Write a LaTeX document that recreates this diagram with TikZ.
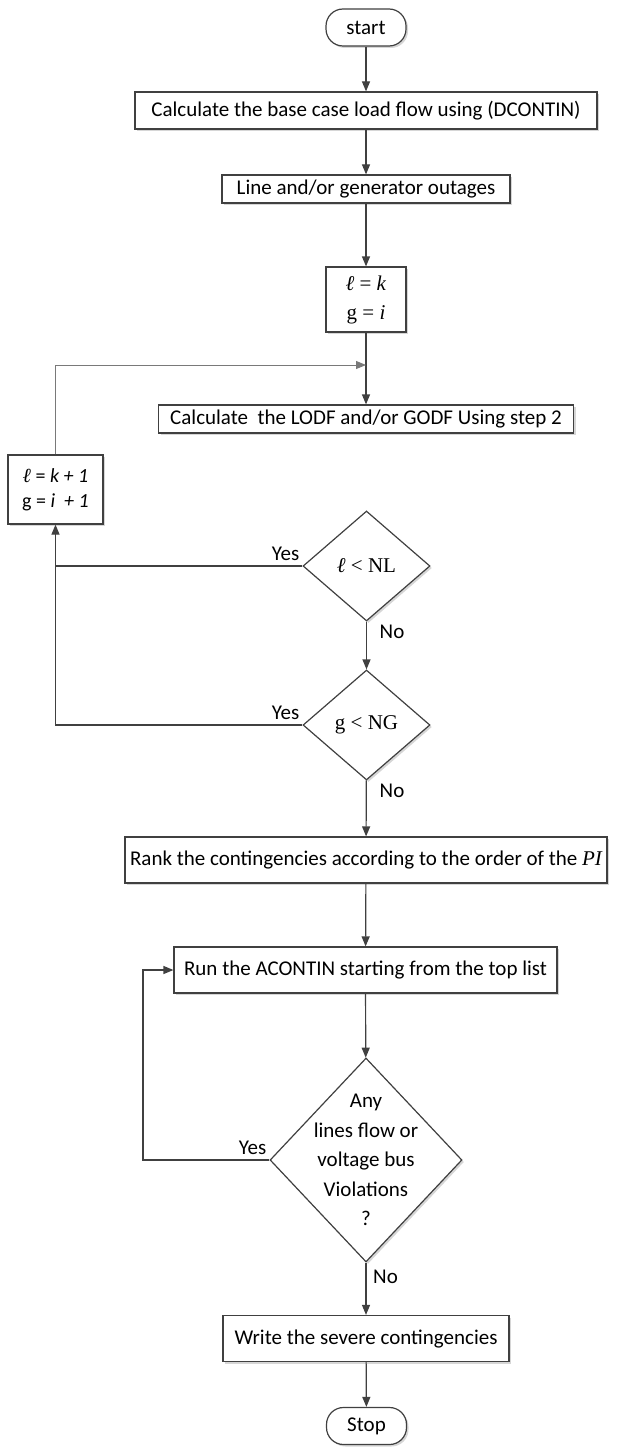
\documentclass[tikz,border=0pt]{standalone}
\usepackage{fontspec}
\setmainfont{Carlito}
\newfontfamily\tnr{Liberation Serif}
\usetikzlibrary{arrows.meta,positioning,shapes.geometric,shadows}
\definecolor{Ink}{HTML}{404040}
\definecolor{Shade}{HTML}{D6D6D6}

\tikzset{
  procbox/.style={draw=Ink,line width=1.2pt,fill=white,minimum height=28pt,inner xsep=6pt,
    drop shadow={shadow xshift=2pt,shadow yshift=-2pt,fill=Shade,opacity=1}},
  termbox/.style={procbox,rounded corners=17pt,minimum width=80pt,minimum height=37pt},
  decision/.style={diamond,draw=Ink,line width=1.2pt,fill=white,inner sep=0pt,
    drop shadow={shadow xshift=2pt,shadow yshift=-2pt,fill=Shade,opacity=1}},
  flow/.style={draw=Ink,line width=1.2pt,-{Triangle[length=10pt,width=8pt]}},
  tag/.style={inner sep=3pt}
}

\begin{document}
\begin{tikzpicture}[x=1pt,y=-1pt,font=\fontsize{21}{25}\selectfont]
  \useasboundingbox (0,0) rectangle (617,1450);
  % main column
  \node[termbox] (start) at (366,27.5) {start};
  \node[procbox,minimum width=462pt,minimum height=37pt] (base) at (366,110.5) {Calculate the base case load flow using (DCONTIN)};
  \node[procbox,minimum width=288pt] (outage) at (366,189) {Line and/or generator outages};
  \node[procbox,minimum width=80pt,minimum height=65pt,align=center,font=\tnr\fontsize{21}{29}\selectfont] (init) at (366,299.5) {\textit{ℓ} = \textit{k}\\g = \textit{i}};
  \coordinate (join) at (366,365);
  \node[procbox,minimum width=415pt] (lodf) at (366,419) {Calculate\ \ the LODF and/or GODF Using step 2};
  \node[procbox,minimum width=95pt,minimum height=69pt,align=center,font=\fontsize{20}{25}\selectfont] (incr) at (55.5,489.5) {{\tnr\itshape ℓ} = \textit{k + 1}\\g = \textit{i}\ \ \textit{+ 1}};
  \node[decision,minimum width=127pt,minimum height=110pt,font=\tnr\fontsize{21}{25}\selectfont] (dl) at (366.5,566) {\textit{ℓ} < NL};
  \node[decision,minimum width=127pt,minimum height=110pt,font=\tnr\fontsize{21}{25}\selectfont] (dg) at (366.5,725) {g < NG};
  \node[procbox,minimum height=46pt,inner xsep=5pt] (rank) at (366,860) {Rank the contingencies according to the order of the {\tnr\itshape PI}};
  \node[procbox,minimum width=383pt,minimum height=46pt] (run) at (365.5,970) {Run the ACONTIN starting from the top list};
  \node[decision,minimum width=192pt,minimum height=204pt,
    label={[align=center,font=\fontsize{21}{29.5}\selectfont]center:Any\\lines flow or\\voltage bus\\Violations\\?}] (viol) at (366,1160) {};
  \node[procbox,minimum width=286pt,minimum height=46pt] (sev) at (366,1338.5) {Write the severe contingencies};
  \node[termbox] (stop) at (366.5,1426) {Stop};

  % answers
  \node[tag,above left=2pt and 0pt of dl.west] (yes1) {Yes};
  \node[tag,above left=2pt and 0pt of dg.west] (yes2) {Yes};
  \node[tag,above left=2pt and 0pt of viol.west] (yes3) {Yes};
  \node[tag,below right=0pt and 10pt of dl.south] (no1) {No};
  \node[tag,below right=0pt and 10pt of dg.south] (no2) {No};
  \node[tag,below right=4pt and 4pt of viol.south] (no3) {No};

  % connectors
  \draw[flow] (start) -- (base);
  \draw[flow] (base) -- (outage);
  \draw[flow] (outage) -- (init);
  \draw[flow] (init) -- (lodf);
  \draw[flow,draw=Ink!70,line width=1pt] (incr.north) |- (join);
  \draw[flow] (dl.west) -| (incr.south);
  \coordinate (yesjoin) at (incr.south |- dl.west);
  \draw[draw=Ink,line width=1.2pt] (dg.west) -| (yesjoin);
  \draw[flow] (dl) -- (dg);
  \draw[flow] (dg) -- (rank);
  \draw[flow] (rank) -- (run);
  \draw[flow] (run) -- (viol);
  \coordinate (loopr) at (143,970);
  \draw[flow] (viol.west) -| (loopr) -- (run.west);
  \draw[flow] (viol) -- (sev);
  \draw[flow] (sev) -- (stop);
\end{tikzpicture}
\end{document}
